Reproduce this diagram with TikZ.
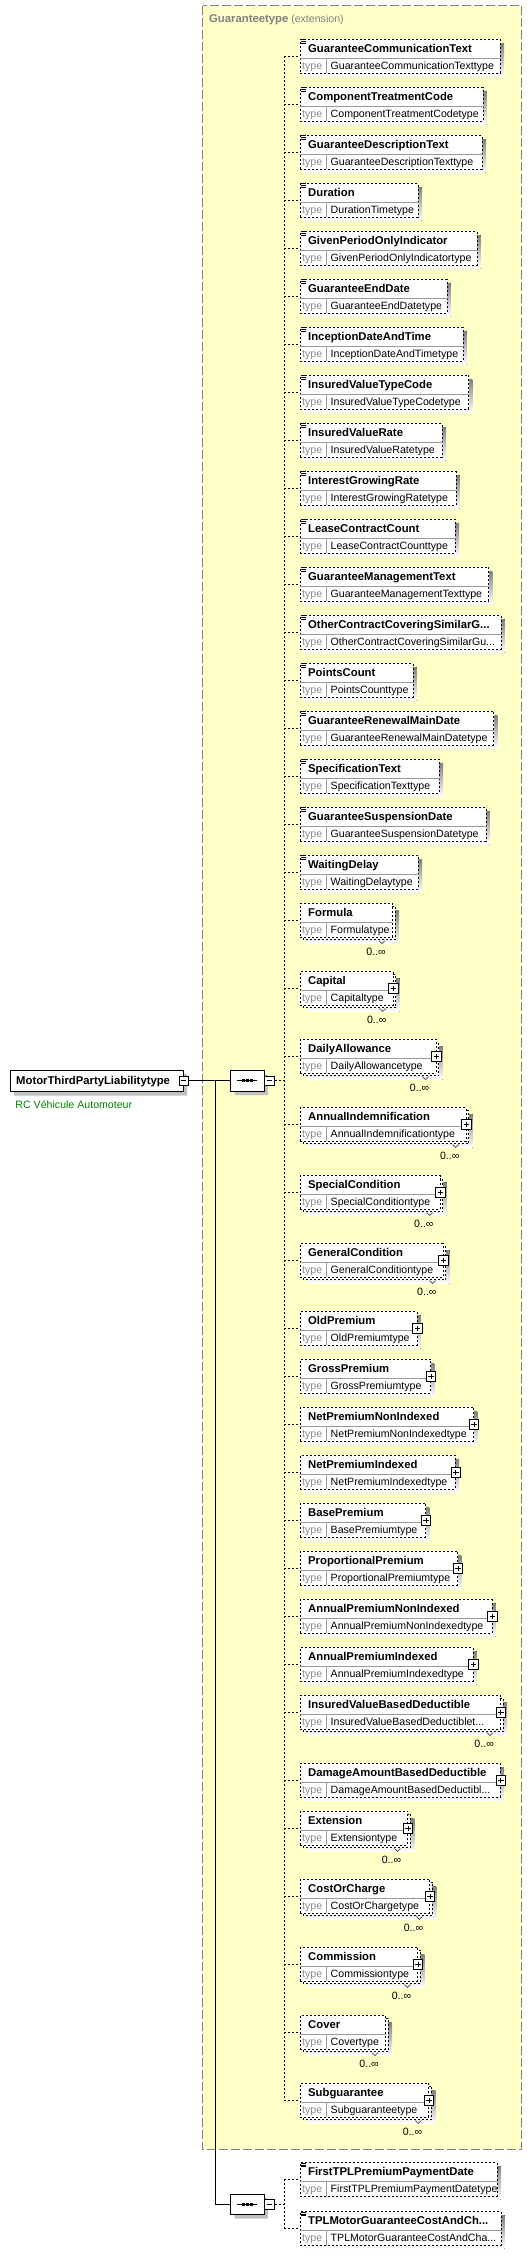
\documentclass[tikz,border=0pt]{standalone}
\usepackage{fontspec}
\setmainfont{Liberation Sans}
\usetikzlibrary{shapes.misc,shadows}

\definecolor{extfill}{RGB}{255,255,200}
\definecolor{extline}{RGB}{128,128,128}
\definecolor{shade}{RGB}{192,192,192}
\definecolor{docgreen}{RGB}{0,128,0}

% element box: #1 name, #2 element, #3 type, #4 top, #5 right edge
\newcommand{\elembody}[5]{%
  \node[elem, minimum width=#5-300, anchor=north west] (#1) at (300,#4) {};
  \draw[sepline] ([yshift=-19.5pt]#1.north west) -- ([yshift=-19.5pt]#1.north east);
  \draw[sepline] ([shift={(26pt,-19.5pt)}]#1.north west) -- ([xshift=26pt]#1.south west);
  \node[ename] (#1n) at ([shift={(8pt,-13pt)}]#1.north west) {#2};
  \node[tlabel] (#1l) at ([shift={(2pt,-30.5pt)}]#1.north west) {type};
  \node[tname] (#1t) at ([shift={(30.5pt,-30.5pt)}]#1.north west) {#3};
  \draw[link] (#1.west -| spine) -- (#1.west);
}
% shadow of a single box
\newcommand{\shadowbox}[2]{\fill[shade] (304,#1+4) rectangle (#2+4,#1+37.5);}
% second box behind a repeated element, with its occurrence
\newcommand{\backing}[3]{%
  \fill[shade] (307,#2+7) rectangle (#3+7,#2+40.5);
  \draw[backbox] (303,#2+3) rectangle (#3+3,#2+36.5);
  \draw[tick] (#3-13,#2+37.5) -- (#3-10,#2+40.5) -- (#3-7,#2+37.5);
  \node[occurs] (#1o) at (#3-6,#2+52.3) {0..∞};
}
% simple type element
\newcommand{\selem}[5]{%
  \shadowbox{#4}{#5}
  \elembody{#1}{#2}{#3}{#4}{#5}
  \draw[icon] ([shift={(1.2pt,-0.8pt)}]#1.north west) -- ++(4.3pt,0)
              ([shift={(1.2pt,-2.6pt)}]#1.north west) -- ++(4.3pt,0)
              ([shift={(1.2pt,-4.4pt)}]#1.north west) -- ++(4.3pt,0);
}
% complex type element
\newcommand{\celem}[5]{%
  \shadowbox{#4}{#5}
  \elembody{#1}{#2}{#3}{#4}{#5}
  \node[plusbox] (#1p) at ([yshift=-17.3pt]#1.north east) {};
}
% repeated element, no children
\newcommand{\relem}[5]{%
  \backing{#1}{#4}{#5}
  \elembody{#1}{#2}{#3}{#4}{#5}
}
% repeated complex element
\newcommand{\rcelem}[5]{%
  \backing{#1}{#4}{#5}
  \elembody{#1}{#2}{#3}{#4}{#5}
  \node[plusbox] (#1p) at ([yshift=-17.3pt]#1.north east) {};
}
% sequence compositor
\newcommand{\seqnode}[3]{%
  \node[seqbox] (#1) at (#2,#3) {};
  \draw[tie] ([xshift=-10pt]#1.center) -- ([xshift=10pt]#1.center);
  \foreach \d in {-4pt,0pt,4pt}
    \fill ([xshift=\d]#1.center) +(-1.4pt,-1.4pt) rectangle +(1.4pt,1.4pt);
  \node[minusbox] (#1m) at ([xshift=22.2pt]#1.center) {};
}

\begin{document}
\begin{tikzpicture}[x=1pt, y=-1pt,
  elem/.style={draw, fill=white, line width=0.8pt, dash pattern=on 2pt off 2pt,
    inner sep=0, minimum height=33.5pt},
  backbox/.style={draw, fill=white, line width=0.8pt, dash pattern=on 2pt off 2pt},
  sepline/.style={draw=black!40, line width=0.8pt},
  ename/.style={anchor=base west, inner sep=0, font=\fontsize{11.3}{13}\selectfont\bfseries},
  tlabel/.style={anchor=base west, inner sep=0, text=black!45, font=\fontsize{10.6}{12}\selectfont},
  tname/.style={anchor=base west, inner sep=0, font=\fontsize{10.6}{12}\selectfont},
  occurs/.style={anchor=base east, inner sep=0, font=\fontsize{10.6}{12}\selectfont},
  icon/.style={line width=0.7pt},
  tick/.style={line width=0.7pt, black!70},
  toggle/.style={draw, fill=white, solid, line width=0.8pt, minimum size=9.5pt, inner sep=0},
  plusbox/.style={toggle, path picture={
    \draw[line width=0.8pt] ([xshift=2pt]path picture bounding box.west) -- ([xshift=-2pt]path picture bounding box.east)
      ([yshift=-2pt]path picture bounding box.north) -- ([yshift=2pt]path picture bounding box.south);}},
  minusbox/.style={toggle, path picture={
    \draw[line width=0.8pt] ([xshift=2pt]path picture bounding box.west) -- ([xshift=-2pt]path picture bounding box.east);}},
  link/.style={line width=0.8pt, dash pattern=on 2pt off 2pt},
  tie/.style={line width=0.9pt},
  ctshadow/.style={drop shadow={shadow xshift=4pt, shadow yshift=-4pt, fill=shade, opacity=1}},
  rootbox/.style={chamfered rectangle, chamfered rectangle xsep=3pt, chamfered rectangle ysep=3pt,
    draw, fill=white, line width=0.8pt, minimum width=173pt, minimum height=21.7pt, inner sep=0, ctshadow},
  seqbox/.style={chamfered rectangle, chamfered rectangle xsep=5pt, chamfered rectangle ysep=5pt,
    draw, fill=white, line width=0.8pt, minimum width=33.3pt, minimum height=20.4pt, inner sep=0, ctshadow},
  extbox/.style={draw=extline, fill=extfill, line width=1pt, dash pattern=on 9pt off 3pt},
  exttitle/.style={anchor=base west, inner sep=0, text=black!50, font=\fontsize{10.6}{12}\selectfont},
  doc/.style={anchor=base west, inner sep=0, text=docgreen, font=\fontsize{10.6}{12}\selectfont}]

  \useasboundingbox (0,0) rectangle (532,2255);

  % extension of Guaranteetype
  \draw[extbox] (202.7,5.7) rectangle (521.7,2149);
  \node[exttitle] (ttl) at (209,22) {{\fontsize{11.3}{13}\selectfont\bfseries Guaranteetype} (extension)};

  % root complex type
  \node[rootbox] (root) at (96.7,1080.8) {};
  \node[ename] (rootn) at (16,1084.2) {MotorThirdPartyLiabilitytype};
  \node[minusbox] (rootm) at (183.7,1080.8) {};
  \node[doc] (rootdoc) at (15.3,1108.6) {RC Véhicule Automoteur};

  % sequences
  \seqnode{seq1}{247.3}{1080.8}
  \seqnode{seq2}{247.3}{2204.3}
  \coordinate (fork) at (215.8,1080.8);
  \coordinate (spine) at (284.3,0);
  \draw[tie] (rootm.east) -- (seq1.west);
  \draw[tie] (fork) |- (seq2.west);
  \draw[link] (seq1m.east) -- (seq1m.east -| spine);
  \draw[link] (seq2m.east) -- (seq2m.east -| spine);

  % children of the extension
  \selem{e1}{GuaranteeCommunicationText}{GuaranteeCommunicationTexttype}{39}{500}
  \selem{e2}{ComponentTreatmentCode}{ComponentTreatmentCodetype}{87}{482.7}
  \selem{e3}{GuaranteeDescriptionText}{GuaranteeDescriptionTexttype}{135}{481.7}
  \selem{e4}{Duration}{DurationTimetype}{183}{417.7}
  \selem{e5}{GivenPeriodOnlyIndicator}{GivenPeriodOnlyIndicatortype}{231}{476.7}
  \selem{e6}{GuaranteeEndDate}{GuaranteeEndDatetype}{279}{446.7}
  \selem{e7}{InceptionDateAndTime}{InceptionDateAndTimetype}{327}{462.7}
  \selem{e8}{InsuredValueTypeCode}{InsuredValueTypeCodetype}{375}{468.3}
  \selem{e9}{InsuredValueRate}{InsuredValueRatetype}{423}{441.7}
  \selem{e10}{InterestGrowingRate}{InterestGrowingRatetype}{471}{455.7}
  \selem{e11}{LeaseContractCount}{LeaseContractCounttype}{519}{455}
  \selem{e12}{GuaranteeManagementText}{GuaranteeManagementTexttype}{567}{488.3}
  \selem{e13}{OtherContractCoveringSimilarG...}{OtherContractCoveringSimilarGu...}{615}{500.7}
  \selem{e14}{PointsCount}{PointsCounttype}{663}{412.7}
  \selem{e15}{GuaranteeRenewalMainDate}{GuaranteeRenewalMainDatetype}{711}{493.3}
  \selem{e16}{SpecificationText}{SpecificationTexttype}{759}{439}
  \selem{e17}{GuaranteeSuspensionDate}{GuaranteeSuspensionDatetype}{807}{485.7}
  \selem{e18}{WaitingDelay}{WaitingDelaytype}{855}{418}
  \relem{e19}{Formula}{Formulatype}{903}{392}
  \rcelem{e20}{Capital}{Capitaltype}{971}{392.6}
  \rcelem{e21}{DailyAllowance}{DailyAllowancetype}{1039}{435.5}
  \rcelem{e22}{AnnualIndemnification}{AnnualIndemnificationtype}{1107}{465.6}
  \rcelem{e23}{SpecialCondition}{SpecialConditiontype}{1175}{439.7}
  \rcelem{e24}{GeneralCondition}{GeneralConditiontype}{1243}{442.7}
  \celem{e25}{OldPremium}{OldPremiumtype}{1311}{416.7}
  \celem{e26}{GrossPremium}{GrossPremiumtype}{1359}{430.3}
  \celem{e27}{NetPremiumNonIndexed}{NetPremiumNonIndexedtype}{1407}{473.3}
  \celem{e28}{NetPremiumIndexed}{NetPremiumIndexedtype}{1455}{455}
  \celem{e29}{BasePremium}{BasePremiumtype}{1503}{425.3}
  \celem{e30}{ProportionalPremium}{ProportionalPremiumtype}{1551}{457.3}
  \celem{e31}{AnnualPremiumNonIndexed}{AnnualPremiumNonIndexedtype}{1599}{491.7}
  \celem{e32}{AnnualPremiumIndexed}{AnnualPremiumIndexedtype}{1647}{472.7}
  \rcelem{e33}{InsuredValueBasedDeductible}{InsuredValueBasedDeductiblet...}{1695}{500}
  \celem{e34}{DamageAmountBasedDeductible}{DamageAmountBasedDeductibl...}{1763}{500}
  \rcelem{e35}{Extension}{Extensiontype}{1811}{407.3}
  \rcelem{e36}{CostOrCharge}{CostOrChargetype}{1879}{429.3}
  \rcelem{e37}{Commission}{Commissiontype}{1947}{417.3}
  \relem{e38}{Cover}{Covertype}{2015}{385}
  \rcelem{e39}{Subguarantee}{Subguaranteetype}{2083}{428.3}
  \draw[link] (e1.west -| spine) -- (e39.west -| spine);

  % own children
  \selem{f1}{FirstTPLPremiumPaymentDate}{FirstTPLPremiumPaymentDatetype}{2162.3}{496.7}
  \selem{f2}{TPLMotorGuaranteeCostAndCh...}{TPLMotorGuaranteeCostAndCha...}{2211.3}{500.7}
  \draw[link] (f1.west -| spine) -- (f2.west -| spine);
\end{tikzpicture}
\end{document}
